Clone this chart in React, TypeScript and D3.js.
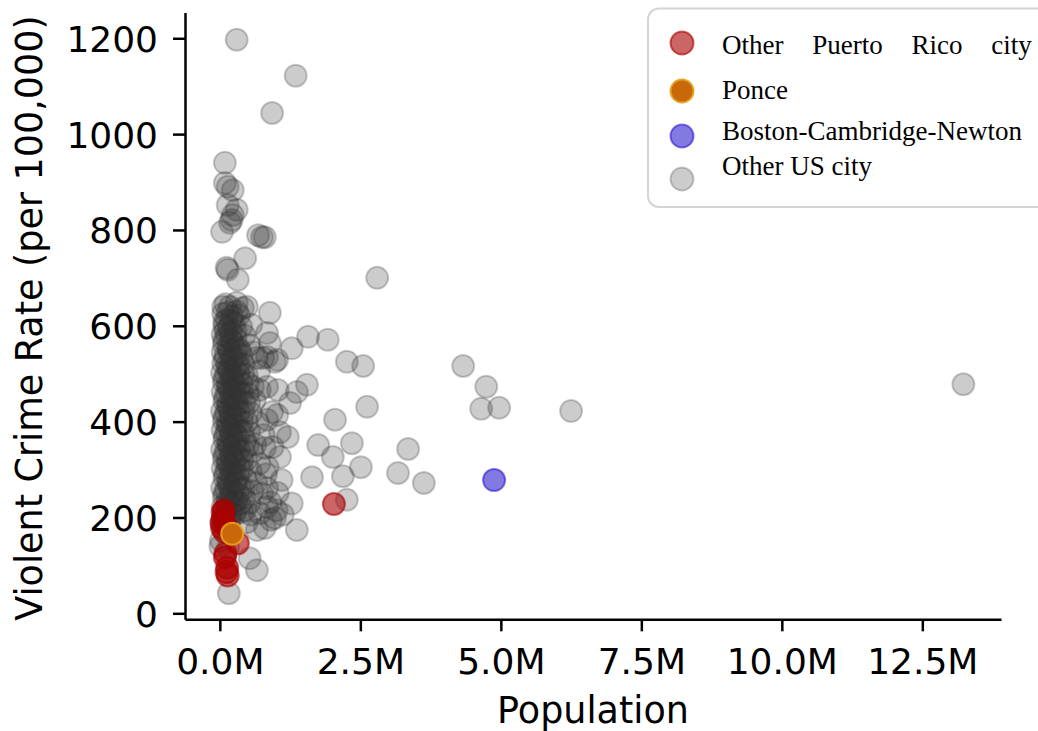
import { useEffect, useRef } from "react";
import * as d3 from "d3";

// [population (millions), violent crime rate per 100,000]
const otherUsCities: [number, number][] = [
  // upper outliers
  [0.30, 1197], [1.35, 1122], [0.93, 1044],
  [0.09, 940], [0.09, 898], [0.14, 890], [0.23, 883], [0.14, 852], [0.30, 842],
  [0.23, 831], [0.21, 821], [0.18, 815], [0.04, 796],
  [0.75, 785], [0.68, 789], [0.80, 785], [0.45, 741], [0.12, 721], [0.14, 717],
  [0.32, 696], [2.80, 700],
  // spread to the right of the main cluster
  [1.57, 577], [1.92, 571], [1.28, 553], [2.26, 525], [2.55, 516], [1.02, 529],
  [1.55, 477], [1.37, 462], [1.25, 439], [1.03, 466], [1.02, 414], [2.05, 404],
  [2.62, 431], [1.21, 368], [1.75, 351], [2.35, 355], [3.35, 343], [2.01, 326],
  [2.51, 305], [1.64, 284], [2.19, 286], [3.17, 293], [3.63, 272], [2.26, 237],
  [1.28, 229], [1.37, 174], [0.91, 195], [1.01, 215], [0.66, 174], [0.80, 178],
  [0.98, 199], [1.12, 206], [0.53, 115], [0.66, 90], [0.16, 42], [0.94, 347],
  [0.84, 404], [1.07, 378], [0.80, 345], [1.07, 326], [0.85, 305], [1.10, 278],
  [0.84, 261], [1.03, 251], [0.84, 222], [0.71, 209],
  // large metros
  [4.33, 516], [4.74, 473], [4.65, 427], [4.97, 429], [6.25, 422], [13.23, 478],
  // low rates, small cities
  [0.01, 140], [0.03, 188], [0.02, 152], [0.15, 138],
  // dense cluster of small cities
  [0.10, 645], [0.18, 640], [0.30, 648], [0.41, 637], [0.48, 640],
  [0.06, 625], [0.14, 628], [0.22, 620], [0.12, 612], [0.34, 622], [0.89, 627],
  [0.08, 600], [0.16, 596], [0.25, 605], [0.38, 598], [0.56, 602],
  [0.05, 582], [0.12, 578], [0.20, 585], [0.28, 575], [0.44, 580], [0.84, 585],
  [0.07, 562], [0.15, 558], [0.23, 565], [0.32, 555], [0.52, 560], [0.89, 564],
  [0.05, 545], [0.10, 538], [0.18, 542], [0.26, 535], [0.36, 548], [0.66, 533], [0.77, 533], [0.60, 545],
  [0.06, 522], [0.13, 518], [0.21, 526], [0.30, 515], [0.42, 520], [0.98, 525], [0.84, 535],
  [0.04, 502], [0.11, 498], [0.17, 505], [0.24, 495], [0.33, 502], [0.48, 498], [0.70, 505],
  [0.07, 482], [0.14, 478], [0.22, 485], [0.29, 475], [0.38, 480], [0.59, 473], [0.71, 466], [0.84, 473],
  [0.05, 462], [0.12, 458], [0.19, 465], [0.27, 455], [0.35, 462], [0.50, 458],
  [0.08, 442], [0.15, 438], [0.23, 445], [0.31, 435], [0.44, 440], [0.62, 445],
  [0.04, 422], [0.11, 418], [0.18, 425], [0.26, 415], [0.34, 422], [0.55, 418], [0.93, 420],
  [0.07, 402], [0.14, 398], [0.21, 405], [0.29, 395], [0.40, 400], [0.68, 398],
  [0.05, 382], [0.12, 378], [0.19, 385], [0.27, 375], [0.36, 382], [0.52, 378], [0.78, 372],
  [0.08, 362], [0.15, 358], [0.22, 365], [0.30, 355], [0.45, 360], [0.63, 352],
  [0.04, 342], [0.11, 338], [0.18, 345], [0.25, 335], [0.34, 342], [0.58, 338],
  [0.07, 322], [0.14, 318], [0.21, 325], [0.28, 315], [0.40, 320], [0.70, 312],
  [0.05, 302], [0.12, 298], [0.19, 305], [0.26, 295], [0.35, 302], [0.55, 296], [0.82, 290],
  [0.08, 282], [0.15, 278], [0.22, 285], [0.30, 275], [0.46, 280], [0.65, 272],
  [0.04, 262], [0.11, 258], [0.18, 265], [0.25, 255], [0.36, 262], [0.58, 255], [0.75, 250],
  [0.07, 242], [0.14, 238], [0.21, 245], [0.30, 235], [0.44, 240], [0.90, 232],
  [0.05, 222], [0.12, 218], [0.19, 225], [0.28, 215], [0.40, 212], [0.55, 206],
  [0.10, 202], [0.18, 198], [0.26, 205], [0.48, 190],
  // more small cities in the densest band
  [0.08, 570], [0.20, 572], [0.16, 550], [0.28, 552], [0.09, 530], [0.22, 532],
  [0.15, 510], [0.27, 512], [0.08, 490], [0.20, 492], [0.32, 488], [0.15, 470],
  [0.25, 468], [0.09, 450], [0.20, 452], [0.30, 448], [0.14, 430], [0.25, 432],
  [0.08, 410], [0.19, 412], [0.31, 408], [0.14, 390], [0.24, 392], [0.09, 370],
  [0.20, 372], [0.32, 368], [0.15, 350], [0.26, 352], [0.08, 330], [0.20, 332],
  [0.31, 328], [0.14, 310], [0.25, 312], [0.09, 290], [0.20, 292], [0.33, 288],
  [0.15, 270], [0.26, 272], [0.08, 250], [0.20, 252], [0.33, 248], [0.14, 230],
  [0.25, 232], [0.09, 212], [0.20, 210], [0.06, 195], [0.16, 192], [0.08, 608],
  [0.20, 610], [0.28, 590], [0.10, 590], [0.30, 630], [0.06, 640],
  [0.42, 500], [0.40, 460], [0.42, 420], [0.40, 380], [0.42, 340], [0.40, 300], [0.42, 260],
  [0.50, 480], [0.52, 440], [0.48, 400], [0.50, 350], [0.47, 320], [0.52, 230],
  [0.45, 215], [0.36, 228], [0.33, 520], [0.38, 540],
];

const otherPuertoRico: [number, number][] = [
  [0.05, 211], [0.07, 215], [0.04, 178], [0.03, 190], [0.06, 200], [0.11, 182],
  [0.08, 170], [0.32, 146], [0.09, 117], [0.10, 125], [0.12, 86], [0.13, 95],
  [0.14, 79], [2.03, 228],
];

const ponce: [number, number][] = [[0.22, 166]];

const boston: [number, number][] = [[4.88, 278]];

const xTicks = [0, 2.5, 5, 7.5, 10, 12.5];
const yTicks = [0, 200, 400, 600, 800, 1000, 1200];

const groups = [
  { label: "Other Puerto Rico city", data: otherPuertoRico, fill: "#aa0000", fillOpacity: 0.6, stroke: "#aa0000", strokeOpacity: 0.6 },
  { label: "Ponce", data: ponce, fill: "#c8680a", fillOpacity: 1, stroke: "#e6a21c", strokeOpacity: 0.9 },
  { label: "Boston-Cambridge-Newton", data: boston, fill: "#3020d0", fillOpacity: 0.6, stroke: "#3020d0", strokeOpacity: 0.6 },
  { label: "Other US city", data: otherUsCities, fill: "#333333", fillOpacity: 0.25, stroke: "#333333", strokeOpacity: 0.25 },
];

const drawOrder = [3, 0, 1, 2];

function App() {
  const ref = useRef<SVGSVGElement>(null);

  useEffect(() => {
    const svg = d3.select(ref.current);
    svg.selectAll("*").remove();

    const font = "DejaVu Sans, sans-serif";

    const x = d3.scaleLinear().domain([-0.62, 13.9]).range([185, 1001]);
    const y = d3.scaleLinear().domain([-12.5, 1254]).range([619.3, 12.4]);

    // points
    drawOrder.forEach((gi) => {
      const g = groups[gi];
      svg
        .append("g")
        .selectAll("circle")
        .data(g.data)
        .join("circle")
        .attr("cx", (d) => x(d[0]))
        .attr("cy", (d) => y(d[1]))
        .attr("r", 11)
        .attr("fill", g.fill)
        .attr("fill-opacity", g.fillOpacity)
        .attr("stroke", g.stroke)
        .attr("stroke-opacity", g.strokeOpacity)
        .attr("stroke-width", 2);
    });

    // axes
    const xAxis = svg
      .append("g")
      .attr("transform", `translate(0,${y.range()[0]})`)
      .call(
        d3
          .axisBottom(x)
          .tickValues(xTicks)
          .tickFormat((d) => `${(+d).toFixed(1)}M`)
          .tickSize(12)
          .tickSizeOuter(0)
          .tickPadding(17)
      );

    const yAxis = svg
      .append("g")
      .attr("transform", `translate(${x.range()[0]},0)`)
      .call(
        d3
          .axisLeft(y)
          .tickValues(yTicks)
          .tickFormat(d3.format("d"))
          .tickSize(12)
          .tickSizeOuter(0)
          .tickPadding(15)
      );

    [xAxis, yAxis].forEach((a) => {
      a.attr("font-family", font).attr("font-size", 36);
      a.select(".domain").attr("stroke", "#000").attr("stroke-width", 2.5);
      a.selectAll(".tick line").attr("stroke", "#000").attr("stroke-width", 2.5);
      a.selectAll(".tick text").attr("fill", "#000");
    });
    yAxis.selectAll(".tick text").attr("dy", "0.36em");

    svg
      .append("text")
      .attr("x", 593)
      .attr("y", 723)
      .attr("text-anchor", "middle")
      .attr("font-family", font)
      .attr("font-size", 36.5)
      .text("Population");

    svg
      .append("text")
      .attr("transform", "translate(42,318) rotate(-90)")
      .attr("text-anchor", "middle")
      .attr("font-family", font)
      .attr("font-size", 36.5)
      .text("Violent Crime Rate (per 100,000)");

    // legend
    const legend = svg.append("g");
    legend
      .append("rect")
      .attr("x", 648)
      .attr("y", 8.5)
      .attr("width", 420)
      .attr("height", 198.5)
      .attr("rx", 11)
      .attr("fill", "#fff")
      .attr("fill-opacity", 0.8)
      .attr("stroke", "#d4d4d4")
      .attr("stroke-width", 2);

    const markerY = [43, 91, 136, 179];
    const textY = [54, 99, 140, 175];
    groups.forEach((g, i) => {
      legend
        .append("circle")
        .attr("cx", 682)
        .attr("cy", markerY[i])
        .attr("r", 11.5)
        .attr("fill", g.fill)
        .attr("fill-opacity", g.fillOpacity)
        .attr("stroke", g.stroke)
        .attr("stroke-opacity", g.strokeOpacity)
        .attr("stroke-width", 2);
      legend
        .append("text")
        .attr("x", 722)
        .attr("y", textY[i])
        .attr("font-family", "Liberation Serif, Times New Roman, serif")
        .attr("font-size", 27)
        .style("word-spacing", i === 0 ? "22px" : "0px")
        .text(g.label);
    });
  }, []);

  return (
    <svg
      ref={ref}
      width={1038}
      height={731}
      style={{ position: "absolute", left: 0, top: 0, background: "#fff" }}
    />
  );
}

export default App;
